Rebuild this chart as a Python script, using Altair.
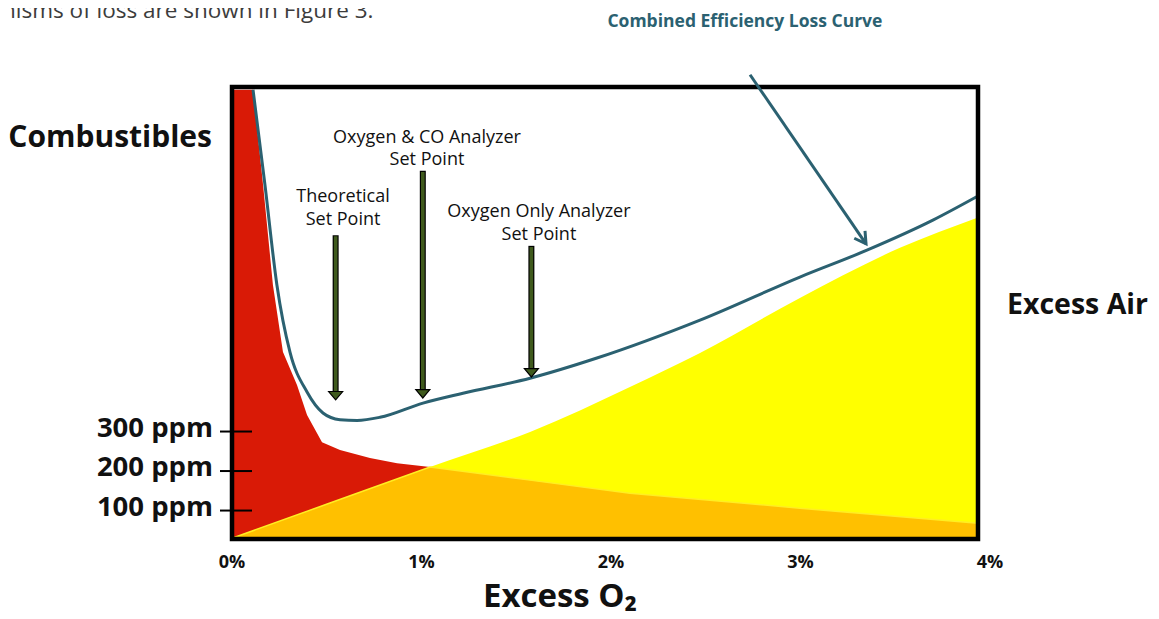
import altair as alt
import pandas as pd

# ---------------- data ----------------
# Excess O2 in %, loss in "ppm-like" units of the hand-drawn y scale
red_x = [0.0, 0.111, 0.164, 0.216, 0.269, 0.343, 0.396, 0.475, 0.570, 0.728, 0.871, 1.045, 1.573, 2.100, 2.997, 3.937]
red_y = [1165, 1165, 924, 671, 501, 418, 342, 273, 253, 233, 220, 210, 177, 144, 106, 68]

air_x = [0.0, 0.517, 1.045, 1.573, 2.100, 2.470, 2.997, 3.525, 3.937]
air_y = [30, 119, 210, 299, 413, 499, 638, 765, 842]

comb_x = [0.111, 0.174, 0.237, 0.306, 0.396, 0.480, 0.570, 0.660, 0.781, 1.008, 1.219, 1.573, 1.926, 2.470, 2.997, 3.351, 3.699, 3.937]
comb_y = [1165, 924, 671, 501, 400, 347, 330, 328, 336, 372, 397, 435, 486, 582, 691, 759, 835, 896]

y_tick_values = [100, 200, 300]
y_tick_labels = ["100 ppm", "200 ppm", "300 ppm"]

x_tick_values = [0, 1, 2, 3, 4]
x_tick_labels = ["0%", "1%", "2%", "3%", "4%"]

arrow_x = [0.547, 1.007, 1.580]
arrow_top = [797, 960, 770]
arrow_tip = [380, 385, 438]

note_text = ["Theoretical", "Set Point", "Oxygen & CO Analyzer", "Set Point", "Oxygen Only Analyzer", "Set Point"]
note_x = [0.586, 0.586, 1.029, 1.029, 1.620, 1.620]
note_y = [894, 835, 1043, 987, 856, 797]

curve_label = "Combined Efficiency Loss Curve"
curve_label_x = [2.707]
curve_label_y = [1337]
pointer_x = [2.734]
pointer_y = [1203]
pointer_x2 = [3.346]
pointer_y2 = [775]

# ---------------- tables ----------------
red_df = pd.DataFrame({"x": red_x, "y": red_y})
air_df = pd.DataFrame({"x": air_x, "y": air_y})
cross = 1.045
orange_df = pd.concat([
    air_df[air_df.x <= cross],
    red_df[red_df.x > cross],
]).reset_index(drop=True)
comb_df = pd.DataFrame({"x": comb_x, "y": comb_y})
yt_df = pd.DataFrame({"y": y_tick_values, "t": y_tick_labels})
xt_df = pd.DataFrame({"x": x_tick_values, "t": x_tick_labels})
arr_df = pd.DataFrame({"x": arrow_x, "top": arrow_top, "tip": arrow_tip})
note_df = pd.DataFrame({"t": note_text, "x": note_x, "y": note_y})
lab_df = pd.DataFrame({"t": [curve_label], "x": curve_label_x, "y": curve_label_y})
ptr_df = pd.DataFrame({"x": pointer_x, "y": pointer_y, "x2": pointer_x2, "y2": pointer_y2})

W, H = 746, 452
FONT = "Open Sans"
TEAL = "#2b6171"
OLIVE = "#3f5a1d"

xs = alt.Scale(domain=[0, 3.937], nice=False, zero=False)
ys = alt.Scale(domain=[28, 1172], nice=False, zero=False)
X = alt.X("x:Q", scale=xs, axis=None)
Y = alt.Y("y:Q", scale=ys, axis=None)
YA = alt.Y("y:Q", scale=ys, axis=None, stack=None)

red = alt.Chart(red_df).mark_area(color="#d91a06", opacity=1).encode(x=X, y=YA, y2=alt.value(H))
air = alt.Chart(air_df).mark_area(color="#ffff00", opacity=1, interpolate="monotone").encode(
    x=X, y=YA, y2=alt.value(H))
orange = alt.Chart(orange_df).mark_area(
    color="#ffc000", opacity=1, stroke="#ffee22", strokeWidth=1.5
).encode(x=X, y=YA, y2=alt.value(H))

comb = alt.Chart(comb_df).mark_line(color=TEAL, strokeWidth=3, interpolate="monotone").encode(
    x=X, y=Y
)

frame = alt.Chart(pd.DataFrame({"k": [0]})).mark_rect(
    fillOpacity=0, stroke="black", strokeWidth=4.5
).encode(x=alt.value(0), x2=alt.value(W), y=alt.value(0), y2=alt.value(H))

yticks = alt.Chart(yt_df).mark_rule(color="black", strokeWidth=2).encode(
    y=Y, x=alt.value(-12), x2=alt.value(20)
)
ylabels = alt.Chart(yt_df).mark_text(
    align="right", baseline="middle", dy=-3, font=FONT, fontSize=27.5, fontWeight="bold", color="#111111"
).encode(y=Y, x=alt.value(-19), text="t:N")

xlabels = alt.Chart(xt_df).mark_text(
    align="center", baseline="middle", font=FONT, fontSize=18, fontWeight="bold", color="#111111"
).encode(x=X, y=alt.value(476), text="t:N")

shaft_out = alt.Chart(arr_df).mark_rule(color="black", strokeWidth=6, y2Offset=-6).encode(
    x=X, y=alt.Y("top:Q", scale=ys, axis=None), y2="tip:Q"
)
shaft_in = alt.Chart(arr_df).mark_rule(color=OLIVE, strokeWidth=3.6, yOffset=1.2, y2Offset=-6).encode(
    x=X, y=alt.Y("top:Q", scale=ys, axis=None), y2="tip:Q"
)
heads = alt.Chart(arr_df).mark_point(
    shape="M-1,-0.6L1,-0.6L0,0.6Z", size=196, filled=True, fill=OLIVE, stroke="black",
    strokeWidth=1.2, opacity=1, yOffset=-4.2
).encode(x=X, y=alt.Y("tip:Q", scale=ys, axis=None))

notes = alt.Chart(note_df).mark_text(
    align="center", baseline="middle", font=FONT, fontSize=18, color="#111111"
).encode(x=X, y=Y, text="t:N")

curve_lab = alt.Chart(lab_df).mark_text(
    align="center", baseline="middle", font=FONT, fontSize=17.5, fontWeight="bold", color=TEAL
).encode(x=X, y=Y, text="t:N")

pointer = alt.Chart(ptr_df).mark_rule(color=TEAL, strokeWidth=3).encode(
    x=X, y=Y, x2="x2:Q", y2="y2:Q"
)
pointer_head = alt.Chart(ptr_df).mark_point(
    shape="M-0.5,-0.866L0,0L0.5,-0.866", size=676, filled=False, stroke=TEAL,
    strokeWidth=3, opacity=1, angle=325.6
).encode(x=alt.X("x2:Q", scale=xs, axis=None), y=alt.Y("y2:Q", scale=ys, axis=None))

def label(text, x, y, align, size, weight="bold", color="#111111", baseline="middle"):
    return alt.Chart(pd.DataFrame({"t": [text]})).mark_text(
        align=align, baseline=baseline, font=FONT, fontSize=size, fontWeight=weight, color=color
    ).encode(text="t:N", x=alt.value(x), y=alt.value(y))

combustibles = label("Combustibles", -20, 51, "right", 30)
excess_air = label("Excess Air", 775, 218, "left", 28.5)
excess_o2 = label("Excess O₂", 328, 510, "center", 33)
page_text = label("nisms of loss are shown in Figure 3.", -230, -69, "left", 22.5,
                  weight="normal", color="#3c3c3c", baseline="alphabetic")

chart = alt.layer(
    red, air, orange, comb, frame, yticks, ylabels, xlabels,
    shaft_out, shaft_in, heads, notes, curve_lab, pointer, pointer_head,
    combustibles, excess_air, excess_o2, page_text,
).properties(
    width=W, height=H,
    padding={"left": 224, "top": 79, "right": 173, "bottom": 72},
    autosize=alt.AutoSizeParams(type="none"),
).configure_view(stroke="transparent")

chart.save("out.html", embed_options={"renderer": "svg", "actions": False})
